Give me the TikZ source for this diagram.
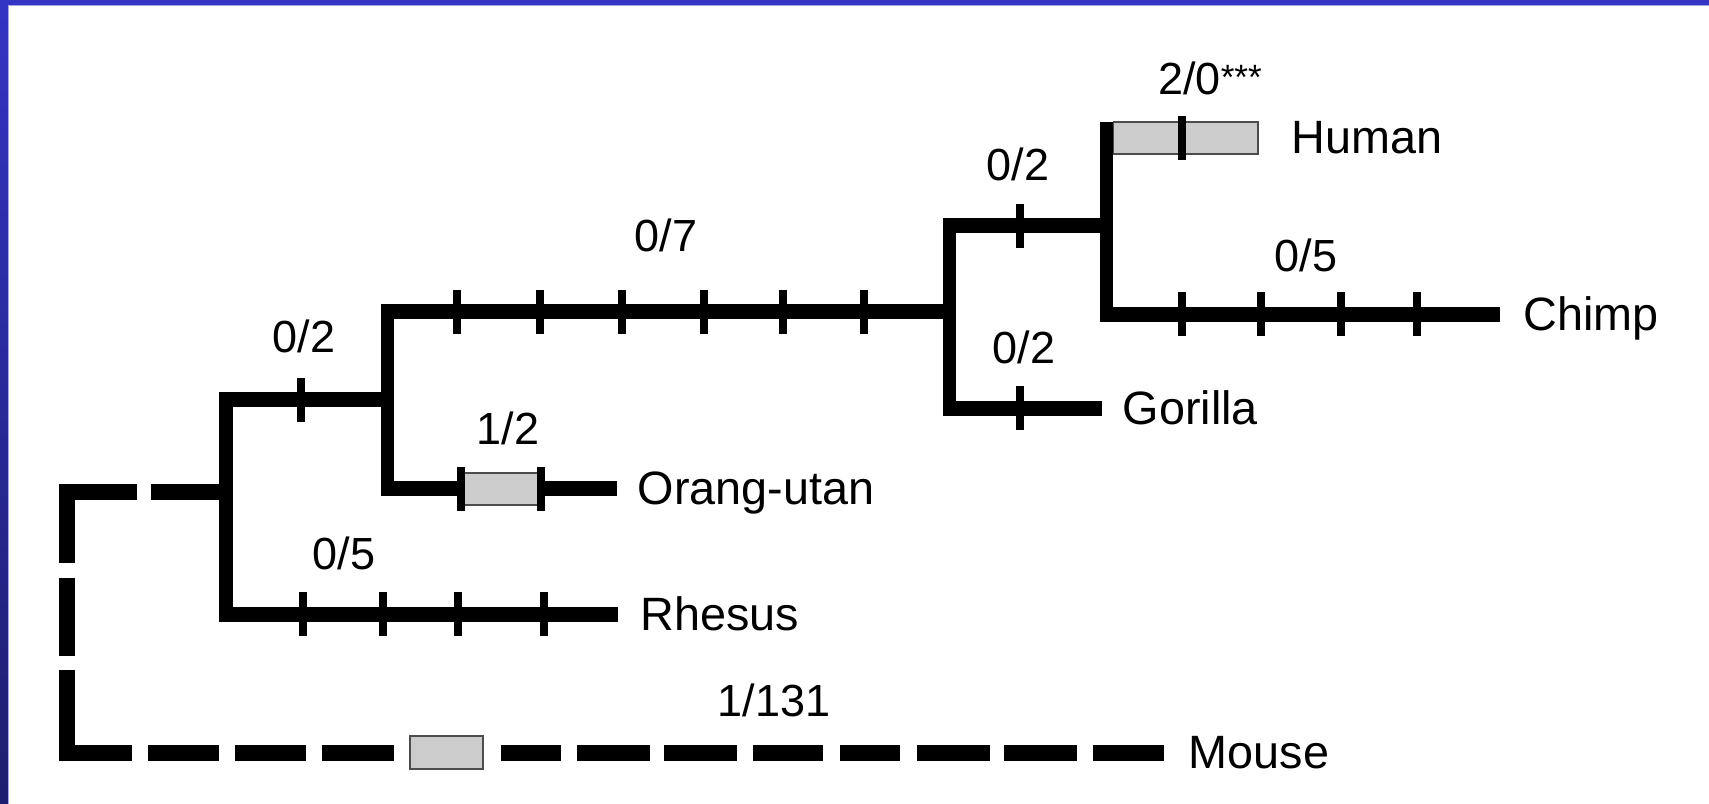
\documentclass[tikz,border=0pt]{standalone}
\usepackage{fontspec}
\setmainfont{Liberation Sans}

\definecolor{frametop}{RGB}{52,52,196}
\definecolor{framebot}{RGB}{30,30,110}
\definecolor{boxgray}{RGB}{204,204,204}

\begin{document}
\begin{tikzpicture}[
    x=0.01cm, y=-0.01cm,
    font=\fontsize{12.8}{15}\selectfont,
    hbranch/.style={line width=0.15cm},
    vbranch/.style={line width=0.13cm, shorten <=-0.075cm, shorten >=-0.075cm},
    mousedash/.style={line width=0.16cm},
    change/.style={line width=0.075cm},
    mutbox/.style={draw=black!70, line width=0.45pt, fill=boxgray, inner sep=0pt,
                   minimum height=0.32cm},
    tally/.style={anchor=base},
    species/.style={anchor=base west, inner sep=0pt, font=\fontsize{13.3}{16}\selectfont}
]

% Frame
\useasboundingbox (0,0) rectangle (1709,804);
\fill[white] (0,0) rectangle (1709,804);
\shade[top color=frametop, bottom color=framebot] (0,0) rectangle (8,804);
\fill[frametop] (0,0) rectangle (1709,5);
\draw[frametop!45, line width=0.01cm] (8,5.5) -- (1709,5.5);
\draw[frametop!45, line width=0.01cm] (8.5,5.5) -- (8.5,804);

% Branch points
\coordinate (n1a) at (226,400);
\coordinate (n1b) at (226,614.5);
\coordinate (n2a) at (387,312);
\coordinate (n2b) at (387,489);
\coordinate (n3a) at (949,226);
\coordinate (n3b) at (949,408.5);
\coordinate (n4a) at (1106,138);
\coordinate (n4b) at (1106,314.5);

% Tips
\coordinate (rhesusend) at (618,614.5);
\coordinate (orangend) at (617,489);
\coordinate (gorillaend) at (1102,408.5);
\coordinate (chimpend) at (1500,314.5);
\coordinate (mouseend) at (1164,753);

% Branches
\draw[vbranch] (n1a) -- (n1b);
\draw[hbranch] (n1a) -- (n2a |- n1a);
\draw[hbranch] (n1b) -- (rhesusend);
\draw[vbranch] (n2a) -- (n2b);
\draw[hbranch] (n2b) -- (orangend);
\draw[hbranch] (n2a) -- (n3a |- n2a);
\draw[vbranch] (n3a) -- (n3b);
\draw[hbranch] (n3b) -- (gorillaend);
\draw[hbranch] (n3a) -- (n4a |- n3a);
\draw[vbranch, shorten <=-0.16cm] (n4a) -- (n4b);
\draw[hbranch] (n4b) -- (chimpend);

% Mouse (outgroup), dashed
\draw[mousedash] (137,492) -- (67,492) -- (67,563);
\draw[mousedash] (151,492) -- (n1a |- 0,492);
\draw[mousedash] (67,578) -- (67,656);
\draw[mousedash] (67,670) -- (67,753) -- (132,753);
\foreach \a/\b in {148/219, 235/306, 322/394, 501/561, 577/650, 664/737,
                   753/823, 840/900, 917/990, 1004/1077, 1093/1164}
    \draw[mousedash] (\a,753) -- (\b,753);

% Boxes
\node[mutbox, minimum width=0.73cm, minimum height=0.33cm] (mousebox) at (446.5,752.5) {};
\node[mutbox, minimum width=0.75cm] (orangbox) at (500.5,489) {};
\node[mutbox, anchor=west, minimum width=1.445cm] (humanbox) at (1112.5,138) {};

% Changes on branches
\foreach \x in {301} \draw[change] (\x,400) ++(0,-22) -- ++(0,44);
\foreach \x in {303, 383, 458, 544} \draw[change] (\x,614.5) ++(0,-22) -- ++(0,44);
\foreach \x in {461, 541} \draw[change] (\x,489) ++(0,-22) -- ++(0,44);
\foreach \x in {457, 540, 622, 704, 783, 864} \draw[change] (\x,312) ++(0,-22) -- ++(0,44);
\foreach \x in {1020} \draw[change] (\x,226) ++(0,-22) -- ++(0,44);
\foreach \x in {1020} \draw[change] (\x,408.5) ++(0,-22) -- ++(0,44);
\foreach \x in {1182, 1261, 1341, 1417} \draw[change] (\x,314.5) ++(0,-22) -- ++(0,44);
\foreach \x in {1182} \draw[change] (\x,138) ++(0,-22) -- ++(0,44);

% Counts
\node[tally] (c1) at (304,353) {0/2};
\node[tally] (c2) at (508,445) {1/2};
\node[tally] (c3) at (344,570) {0/5};
\node[tally] (c4) at (666,252) {0/7};
\node[tally] (c5) at (1018,181) {0/2};
\node[tally] (c6) at (1024,364) {0/2};
\node[tally] (c7) at (1306,272) {0/5};
\node[tally] (c8) at (1210,95) {2/0\raisebox{1.5pt}{\fontsize{10}{12}\selectfont ***}};
\node[tally] (c9) at (774,717) {1/131};

% Species
\path (humanbox.east) ++(32,16) node[species] (human) {Human};
\path (chimpend) ++(23,16) node[species] (chimp) {Chimp};
\path (gorillaend) ++(20,16) node[species] (gorilla) {Gorilla};
\path (orangend) ++(20,16) node[species] (orang) {Orang-utan};
\path (rhesusend) ++(22,16) node[species] (rhesus) {Rhesus};
\path (mouseend) ++(24,16) node[species] (mouse) {Mouse};

\end{tikzpicture}
\end{document}
